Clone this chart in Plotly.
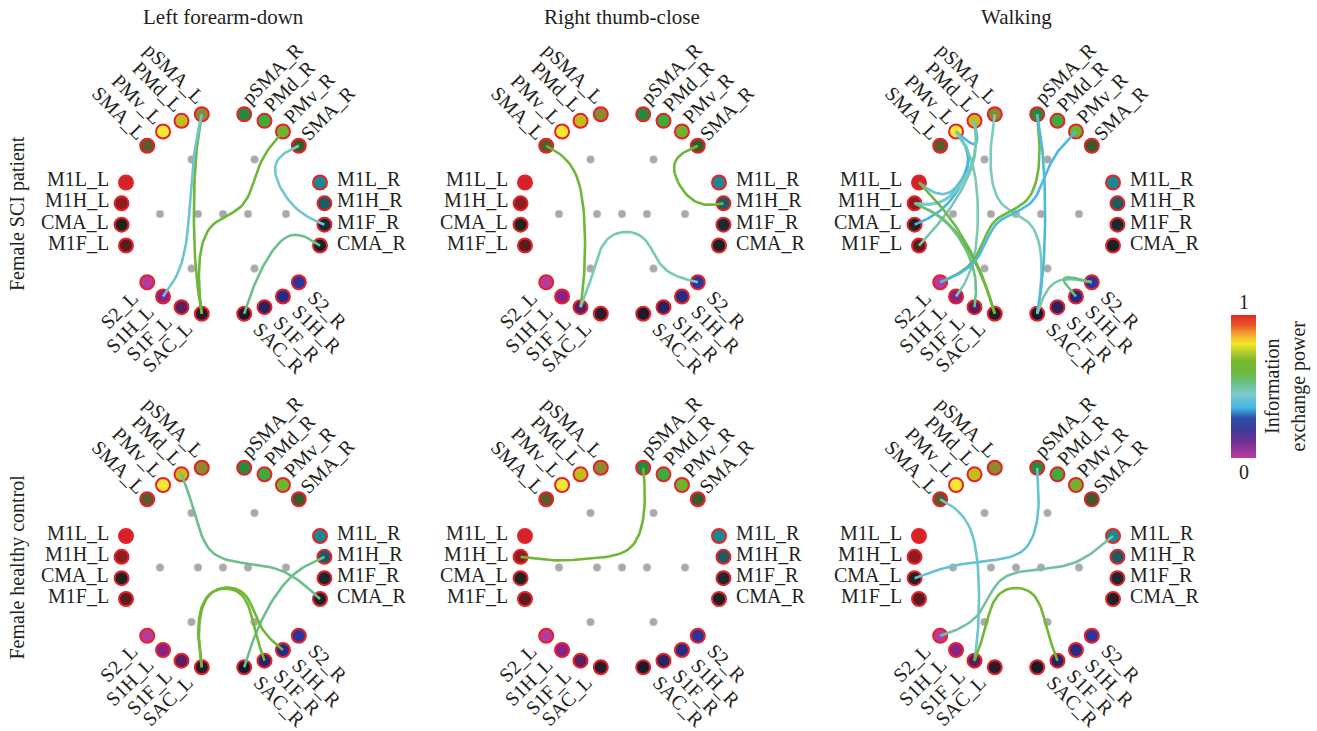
import numpy as np
import plotly.graph_objects as go
from plotly.colors import sample_colorscale

# ---------------- data ----------------
col_titles = ["Left forearm-down", "Right thumb-close", "Walking"]
row_titles = ["Female SCI patient", "Female healthy control"]

nodes_L = ["pSMA_L", "PMd_L", "PMv_L", "SMA_L", "M1L_L", "M1H_L", "CMA_L", "M1F_L",
           "S2_L", "S1H_L", "S1F_L", "SAC_L"]
nodes_R = ["pSMA_R", "PMd_R", "PMv_R", "SMA_R", "M1L_R", "M1H_R", "M1F_R", "CMA_R",
           "S2_R", "S1H_R", "S1F_R", "SAC_R"]
node_group = [0, 0, 0, 0, 1, 1, 1, 1, 2, 2, 2, 2]
colors_L = ["#8c8a2e", "#c4bc1c", "#f6e832", "#5c5a2c", "#d42228", "#8e1c20", "#24221e", "#5a1c1e",
            "#b43c9e", "#8a2088", "#5c1e5c", "#2c1a2c"]
colors_R = ["#268a3c", "#3cac3c", "#70b42e", "#3a5a2c", "#1a8890", "#1e5a64", "#1a2a32", "#1a2228",
            "#30349a", "#2a2a84", "#2a2262", "#1a1a2c"]

# connections: (source, target, information exchange power)
edges_sci_forearm = [("pSMA_L", "SAC_L", 0.62), ("S1H_L", "pSMA_L", 0.42), ("PMv_R", "SAC_L", 0.60),
                     ("SMA_R", "M1F_R", 0.43), ("CMA_R", "SAC_R", 0.52)]
edges_sci_thumb = [("SMA_L", "S1F_L", 0.61), ("SMA_R", "M1H_R", 0.61), ("S1F_L", "S2_R", 0.47)]
edges_sci_walk = [("PMd_L", "PMv_L", 0.37), ("PMv_L", "M1L_L", 0.42), ("PMv_L", "M1H_L", 0.38),
                  ("PMv_L", "CMA_L", 0.36), ("PMd_L", "M1H_L", 0.44), ("PMd_L", "M1F_L", 0.48),
                  ("PMv_L", "S1H_L", 0.47), ("M1L_L", "SAC_L", 0.58), ("M1H_L", "SAC_L", 0.62),
                  ("M1H_L", "S1F_L", 0.52), ("pSMA_L", "SAC_R", 0.46), ("pSMA_R", "S2_L", 0.60),
                  ("PMv_R", "S2_L", 0.37), ("pSMA_R", "SAC_R", 0.37), ("SAC_R", "S2_R", 0.48),
                  ("S1H_R", "S2_R", 0.53)]
edges_hc_forearm = [("PMd_L", "CMA_R", 0.52), ("M1H_R", "SAC_R", 0.52), ("SAC_L", "S1H_R", 0.62),
                    ("SAC_L", "S1F_R", 0.63)]
edges_hc_thumb = [("M1H_L", "pSMA_R", 0.62)]
edges_hc_walk = [("SMA_L", "S1F_L", 0.42), ("pSMA_R", "CMA_L", 0.41), ("M1L_R", "S2_L", 0.50),
                 ("S1F_L", "S1F_R", 0.63)]
panel_edges = [[edges_sci_forearm, edges_sci_thumb, edges_sci_walk],
               [edges_hc_forearm, edges_hc_thumb, edges_hc_walk]]

cbar_ticks = ["0", "1"]
cbar_title = "Information<br>exchange power"

colorscale = [[0.0, "#b93c9c"], [0.1, "#7a3096"], [0.2, "#3a3a98"], [0.28, "#3050aa"],
              [0.35, "#40b4e4"], [0.45, "#80ccc8"], [0.52, "#6cc08c"], [0.6, "#6cb83a"],
              [0.68, "#76b82c"], [0.75, "#c0d02a"], [0.8, "#f2e628"], [0.87, "#f4a030"],
              [0.93, "#e85428"], [1.0, "#e02a22"]]

# ---------------- layout geometry (pixel space) ----------------
W, H = 1317, 731
panel_cx = [223, 622, 1016]
panel_cy = [214, 567.5]
R_LEAF, R_GROUP, R_HEMI = 102, 63, 25
leaf_angles = [12, 24, 36, 48, 72, 84, 96, 108, 132, 144, 156, 168]
group_angles = [30, 90, 150]
BETA = 0.8
FONT = "Liberation Serif"
TXT = "#231f20"
FS = 20

def polar(cx, cy, side, r, ang):
    a = np.radians(ang)
    return np.array([cx + side * r * np.sin(a), cy - r * np.cos(a)])

def hierarchy(cx, cy):
    pos = {}
    info = {}
    for side, names in ((-1, nodes_L), (1, nodes_R)):
        for i, n in enumerate(names):
            pos[n] = polar(cx, cy, side, R_LEAF, leaf_angles[i])
            info[n] = (side, node_group[i])
    groups = {(s, g): polar(cx, cy, s, R_GROUP, group_angles[g]) for s in (-1, 1) for g in range(3)}
    hemis = {s: polar(cx, cy, s, R_HEMI, 90) for s in (-1, 1)}
    root = np.array([cx, cy])
    return pos, info, groups, hemis, root

def bundle_path(a, b, pos, info, groups, hemis, root, beta=BETA):
    sa, ga = info[a]
    sb, gb = info[b]
    # hierarchy path between the two leaves (common ancestor left out)
    if sa == sb and ga == gb:
        pts = [pos[a], groups[(sa, ga)], pos[b]]
    elif sa == sb:
        pts = [pos[a], groups[(sa, ga)], groups[(sb, gb)], pos[b]]
    else:
        pts = [pos[a], groups[(sa, ga)], hemis[sa], hemis[sb], groups[(sb, gb)], pos[b]]
    pts = np.array(pts, dtype=float)
    n = len(pts) - 1
    p0, pn = pts[0], pts[-1]
    adj = np.array([beta * pts[i] + (1 - beta) * (p0 + (pn - p0) * i / n) for i in range(n + 1)])
    ctrl = np.vstack([adj[0], adj[0], adj, adj[-1], adj[-1]])
    out = []
    for i in range(len(ctrl) - 3):
        P0, P1, P2, P3 = ctrl[i:i + 4]
        for t in np.linspace(0, 1, 14):
            b0 = (1 - t) ** 3
            b1 = 3 * t ** 3 - 6 * t ** 2 + 4
            b2 = -3 * t ** 3 + 3 * t ** 2 + 3 * t + 1
            b3 = t ** 3
            out.append((b0 * P0 + b1 * P1 + b2 * P2 + b3 * P3) / 6)
    out = np.array(out)
    return out[:, 0], out[:, 1]

CW = {"p": .5, "S": .556, "M": .889, "A": .722, "_": .5, "L": .611, "P": .556, "d": .5, "v": .5,
      "R": .667, "1": .5, "H": .722, "C": .667, "F": .556, "2": .5}

def text_w(s):
    return sum(CW.get(c, .55) for c in s) * FS

fig = go.Figure()
annotations = []

for r in range(2):
    for c in range(3):
        cx, cy = panel_cx[c], panel_cy[r]
        pos, info, groups, hemis, root = hierarchy(cx, cy)
        inner = list(groups.values()) + list(hemis.values()) + [root]
        fig.add_trace(go.Scatter(x=[p[0] for p in inner], y=[p[1] for p in inner], mode="markers",
                                 marker=dict(size=8, color="#a9a9a9", line=dict(width=0.6, color="#d8d8d8")),
                                 hoverinfo="skip", showlegend=False))
        names = nodes_L + nodes_R
        cols = colors_L + colors_R
        fig.add_trace(go.Scatter(x=[pos[n][0] for n in names], y=[pos[n][1] for n in names], mode="markers",
                                 marker=dict(size=14, color=cols, line=dict(width=2, color="#e4232a")),
                                 text=names, hoverinfo="text", showlegend=False))
        for a, b, v in panel_edges[r][c]:
            xs, ys = bundle_path(a, b, pos, info, groups, hemis, root)
            col = sample_colorscale(colorscale, [v])[0]
            fig.add_trace(go.Scatter(x=xs, y=ys, mode="lines", line=dict(color=col, width=2.6),
                                     hoverinfo="skip", showlegend=False))
        for side, nm in ((-1, nodes_L), (1, nodes_R)):
            for i, n in enumerate(nm):
                g = node_group[i]
                p = pos[n]
                th = np.radians(leaf_angles[i])
                w = text_w(n)
                if g == 1:
                    if side < 0:
                        annotations.append(dict(x=cx - R_LEAF - 10, y=p[1] - 3, text=n, xanchor="right",
                                                yanchor="middle", showarrow=False))
                    else:
                        annotations.append(dict(x=cx + R_LEAF + 10, y=p[1] - 3, text=n, xanchor="left",
                                                yanchor="middle", showarrow=False))
                    continue
                if g == 0:
                    end = p + 14 * np.array([side * 0.5 * np.sin(th), -np.cos(th)])
                    u = np.array([side * 0.7071, -0.7071])
                    ang = 45 if side < 0 else -45
                else:
                    end = p + np.array([side * 13, 12])
                    u = np.array([side * 0.7071, 0.7071])
                    ang = -45 if side < 0 else 45
                ctr = end + u * (w / 2)
                annotations.append(dict(x=ctr[0], y=ctr[1], text=n, textangle=ang, xanchor="center",
                                        yanchor="middle", showarrow=False))

for c in range(3):
    annotations.append(dict(x=panel_cx[c], y=17, text=col_titles[c], xanchor="center", yanchor="middle",
                            showarrow=False, font=dict(family=FONT, size=21, color=TXT)))
for r in range(2):
    annotations.append(dict(x=17, y=panel_cy[r], text=row_titles[r], textangle=-90, xanchor="center",
                            yanchor="middle", showarrow=False))

cb_x0, cb_x1, cb_y0, cb_y1 = 1231, 1256, 315, 458
fig.add_trace(go.Scatter(x=[None], y=[None], mode="markers", hoverinfo="skip", showlegend=False,
                         marker=dict(color=[0, 1], cmin=0, cmax=1, colorscale=colorscale, showscale=True,
                                     colorbar=dict(x=cb_x0 / W, xanchor="left", y=1 - (cb_y0 + cb_y1) / 2 / H,
                                                   yanchor="middle", thickness=cb_x1 - cb_x0,
                                                   lenmode="pixels", len=cb_y1 - cb_y0, xpad=0, ypad=0,
                                                   outlinewidth=0, showticklabels=False, ticks=""))))
annotations.append(dict(x=(cb_x0 + cb_x1) / 2, y=cb_y0 - 13, text=cbar_ticks[1], showarrow=False,
                        xanchor="center", yanchor="middle"))
annotations.append(dict(x=(cb_x0 + cb_x1) / 2, y=cb_y1 + 14, text=cbar_ticks[0], showarrow=False,
                        xanchor="center", yanchor="middle"))
annotations.append(dict(x=1285, y=(cb_y0 + cb_y1) / 2, text=cbar_title, textangle=-90, showarrow=False,
                        xanchor="center", yanchor="middle"))

for a in annotations:
    a["xref"] = "x"
    a["yref"] = "y"
    a.setdefault("font", dict(family=FONT, size=FS, color=TXT))

fig.update_layout(width=W, height=H, margin=dict(l=0, r=0, t=0, b=0), paper_bgcolor="white",
                  plot_bgcolor="white", annotations=annotations,
                  xaxis=dict(range=[0, W], visible=False, fixedrange=True),
                  yaxis=dict(range=[H, 0], visible=False, fixedrange=True),
                  font=dict(family=FONT, size=FS, color=TXT))

fig.write_html("out.html", config={"displayModeBar": False},
               post_script="document.body.style.margin='0';document.body.style.overflow='hidden';")
